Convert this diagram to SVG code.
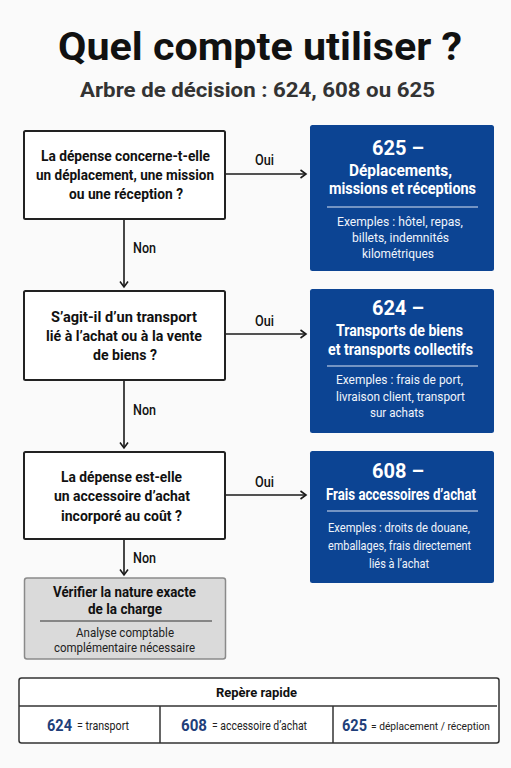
<svg xmlns="http://www.w3.org/2000/svg" width="511" height="768" viewBox="0 0 511 768">
<defs>
<marker id="arr" markerWidth="10" markerHeight="10" refX="7" refY="5" orient="auto" markerUnits="userSpaceOnUse">
<path d="M1.5,1 L7,5 L1.5,9" fill="none" stroke="#1a1a1a" stroke-width="1.6"/>
</marker>
</defs>
<style>
text{font-family:Roboto,"Liberation Sans",sans-serif;text-anchor:middle}
.title{font-weight:bold;font-size:38px;fill:#111}
.sub{font-weight:bold;font-size:21px;fill:#333}
.qbox{fill:#fff;stroke:#222;stroke-width:2}
.q{font-weight:bold;font-size:15px;fill:#111}
.lbl{font-weight:500;font-size:14px;fill:#111}
.bbox{fill:#0c4493}
.num{font-weight:bold;font-size:21px;fill:#fff}
.bt{font-weight:bold;font-size:16px;fill:#fff}
.ex{font-size:13px;fill:#f0f4fb}
.bdiv{stroke:#dbe4f3;stroke-width:1.2}
.conn{stroke:#1a1a1a;stroke-width:1.6;fill:none}
.gbox{fill:#dadada;stroke:#8a8a8a;stroke-width:1.5}
.gt{font-weight:bold;font-size:14.5px;fill:#111}
.gs{font-size:13px;fill:#222}
.tbl{fill:#fff;stroke:#333;stroke-width:1.5}
.th{font-weight:bold;font-size:13.5px;fill:#111}
.tn{font-weight:bold;font-size:17px;fill:#1f3f7a;text-anchor:start}
.tv{font-size:13px;fill:#222;text-anchor:start}
</style>
<rect width="511" height="768" fill="#fafafa"/>
<g id="title">
<text class="title" x="260" y="60" textLength="404" lengthAdjust="spacingAndGlyphs">Quel compte utiliser ?</text>
<text class="sub" x="257.5" y="97" textLength="355" lengthAdjust="spacingAndGlyphs">Arbre de décision : 624, 608 ou 625</text>
</g>
<g id="connectors">
<line class="conn" x1="225" y1="174" x2="306" y2="174" marker-end="url(#arr)"/>
<line class="conn" x1="225" y1="334" x2="306" y2="334" marker-end="url(#arr)"/>
<line class="conn" x1="225" y1="495" x2="306" y2="495" marker-end="url(#arr)"/>
<line class="conn" x1="124" y1="219" x2="124" y2="287" marker-end="url(#arr)"/>
<line class="conn" x1="124" y1="380" x2="124" y2="448" marker-end="url(#arr)"/>
<line class="conn" x1="124" y1="539" x2="124" y2="575" marker-end="url(#arr)"/>
<text class="lbl" x="264.5" y="165" textLength="19" lengthAdjust="spacingAndGlyphs">Oui</text>
<text class="lbl" x="264.5" y="326" textLength="19" lengthAdjust="spacingAndGlyphs">Oui</text>
<text class="lbl" x="264.5" y="487" textLength="19" lengthAdjust="spacingAndGlyphs">Oui</text>
<text class="lbl" x="144.5" y="253" textLength="23" lengthAdjust="spacingAndGlyphs">Non</text>
<text class="lbl" x="144.5" y="415" textLength="23" lengthAdjust="spacingAndGlyphs">Non</text>
<text class="lbl" x="144.5" y="563" textLength="23" lengthAdjust="spacingAndGlyphs">Non</text>
</g>
<g id="q1">
<rect class="qbox" x="24" y="131" width="201" height="88" rx="1.5"/>
<text class="q" x="125.5" y="161" textLength="169" lengthAdjust="spacingAndGlyphs">La dépense concerne-t-elle</text>
<text class="q" x="125" y="180" textLength="178" lengthAdjust="spacingAndGlyphs">un déplacement, une mission</text>
<text class="q" x="126" y="199" textLength="114" lengthAdjust="spacingAndGlyphs">ou une réception ?</text>
</g>
<g id="q2">
<rect class="qbox" x="24" y="291" width="201" height="89" rx="1.5"/>
<text class="q" x="124" y="322" textLength="146" lengthAdjust="spacingAndGlyphs">S’agit-il d’un transport</text>
<text class="q" x="124" y="341" textLength="156" lengthAdjust="spacingAndGlyphs">lié à l’achat ou à la vente</text>
<text class="q" x="125" y="360" textLength="64" lengthAdjust="spacingAndGlyphs">de biens ?</text>
</g>
<g id="q3">
<rect class="qbox" x="24" y="452" width="201" height="87" rx="1.5"/>
<text class="q" x="121.5" y="482" textLength="121" lengthAdjust="spacingAndGlyphs">La dépense est-elle</text>
<text class="q" x="122" y="501" textLength="136" lengthAdjust="spacingAndGlyphs">un accessoire d’achat</text>
<text class="q" x="121.5" y="521" textLength="121" lengthAdjust="spacingAndGlyphs">incorporé au coût ?</text>
</g>
<g id="r625">
<rect class="bbox" x="310" y="125" width="184" height="146" rx="2.5"/>
<text class="num" x="398" y="155" textLength="52" lengthAdjust="spacingAndGlyphs">625 –</text>
<text class="bt" x="400.5" y="176" textLength="103" lengthAdjust="spacingAndGlyphs">Déplacements,</text>
<text class="bt" x="402.5" y="194" textLength="147" lengthAdjust="spacingAndGlyphs">missions et réceptions</text>
<line class="bdiv" x1="327" y1="207" x2="478" y2="207"/>
<text class="ex" x="400" y="226" textLength="126" lengthAdjust="spacingAndGlyphs">Exemples : hôtel, repas,</text>
<text class="ex" x="400.5" y="242" textLength="97" lengthAdjust="spacingAndGlyphs">billets, indemnités</text>
<text class="ex" x="398" y="258" textLength="72" lengthAdjust="spacingAndGlyphs">kilométriques</text>
</g>
<g id="r624">
<rect class="bbox" x="310" y="289" width="184" height="144" rx="2.5"/>
<text class="num" x="398" y="315" textLength="52" lengthAdjust="spacingAndGlyphs">624 –</text>
<text class="bt" x="399.5" y="336" textLength="127" lengthAdjust="spacingAndGlyphs">Transports de biens</text>
<text class="bt" x="400.5" y="355" textLength="145" lengthAdjust="spacingAndGlyphs">et transports collectifs</text>
<line class="bdiv" x1="327" y1="366" x2="478" y2="366"/>
<text class="ex" x="399.5" y="384" textLength="127" lengthAdjust="spacingAndGlyphs">Exemples : frais de port,</text>
<text class="ex" x="400.5" y="401" textLength="129" lengthAdjust="spacingAndGlyphs">livraison client, transport</text>
<text class="ex" x="397" y="417" textLength="54" lengthAdjust="spacingAndGlyphs">sur achats</text>
</g>
<g id="r608">
<rect class="bbox" x="310" y="451" width="184" height="132" rx="2.5"/>
<text class="num" x="398" y="478" textLength="52" lengthAdjust="spacingAndGlyphs">608 –</text>
<text class="bt" x="401" y="500" textLength="150" lengthAdjust="spacingAndGlyphs">Frais accessoires d’achat</text>
<line class="bdiv" x1="327" y1="511" x2="478" y2="511"/>
<text class="ex" x="399" y="532" textLength="142" lengthAdjust="spacingAndGlyphs">Exemples : droits de douane,</text>
<text class="ex" x="399.5" y="550" textLength="143" lengthAdjust="spacingAndGlyphs">emballages, frais directement</text>
<text class="ex" x="399" y="568" textLength="60" lengthAdjust="spacingAndGlyphs">liés à l’achat</text>
</g>
<g id="verify">
<rect class="gbox" x="24.5" y="578" width="201" height="81" rx="2.5"/>
<text class="gt" x="124.5" y="597" textLength="143" lengthAdjust="spacingAndGlyphs">Vérifier la nature exacte</text>
<text class="gt" x="125" y="614" textLength="74" lengthAdjust="spacingAndGlyphs">de la charge</text>
<line x1="40" y1="621" x2="212" y2="621" stroke="#333" stroke-width="1.2"/>
<text class="gs" x="125" y="637" textLength="98" lengthAdjust="spacingAndGlyphs">Analyse comptable</text>
<text class="gs" x="124.5" y="652" textLength="141" lengthAdjust="spacingAndGlyphs">complémentaire nécessaire</text>
</g>
<g id="legend">
<rect class="tbl" x="19" y="678" width="480" height="65" rx="2.5"/>
<line x1="19" y1="706" x2="497" y2="706" stroke="#333" stroke-width="1.5"/>
<line x1="160" y1="706" x2="160" y2="743" stroke="#333" stroke-width="1.5"/>
<line x1="333" y1="706" x2="333" y2="743" stroke="#333" stroke-width="1.5"/>
<text class="th" x="256.5" y="697" textLength="81" lengthAdjust="spacingAndGlyphs">Repère rapide</text>
<text class="tn" x="47" y="731" textLength="25" lengthAdjust="spacingAndGlyphs">624</text>
<text class="tv" x="77" y="730" textLength="52" lengthAdjust="spacingAndGlyphs">= transport</text>
<text class="tn" x="181" y="731" textLength="26" lengthAdjust="spacingAndGlyphs">608</text>
<text class="tv" x="212" y="730" textLength="95" lengthAdjust="spacingAndGlyphs">= accessoire d’achat</text>
<text class="tn" x="342" y="731" textLength="25" lengthAdjust="spacingAndGlyphs">625</text>
<text class="tv" x="371" y="730" style="font-size:11.5px" textLength="119" lengthAdjust="spacingAndGlyphs">= déplacement / réception</text>
</g>
</svg>
